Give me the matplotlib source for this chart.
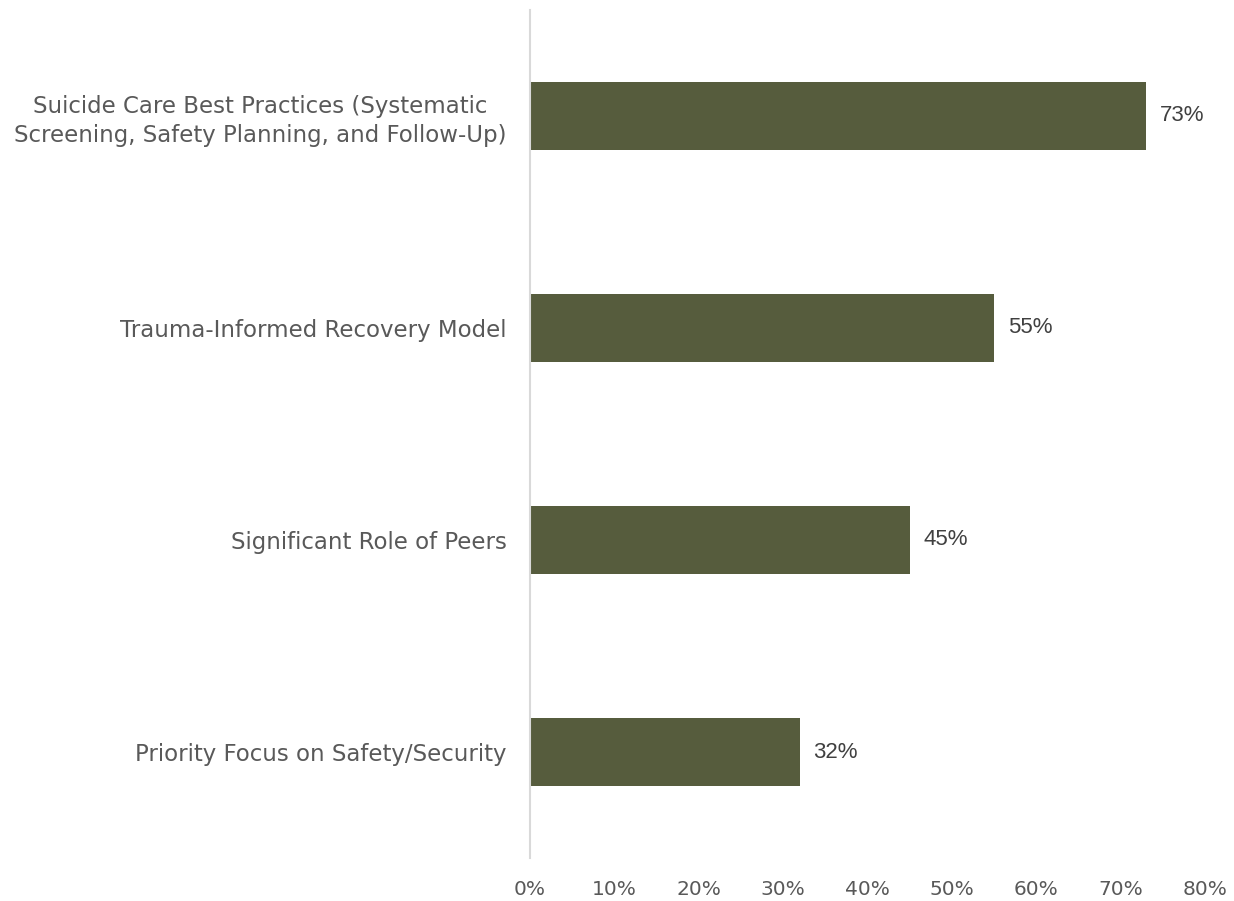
import matplotlib
matplotlib.use("Agg")
import matplotlib.pyplot as plt
from matplotlib.ticker import PercentFormatter

plt.rcParams['font.family'] = ['DejaVu Sans']

categories = [
    "Suicide Care Best Practices (Systematic\nScreening, Safety Planning, and Follow-Up)",
    "Trauma-Informed Recovery Model",
    "Significant Role of Peers",
    "Priority Focus on Safety/Security",
]
values = [73, 55, 45, 32]

bar_color = "#565C3D"
text_color = "#595959"

fig = plt.figure(figsize=(12.34, 9.01), dpi=100)
ax = fig.add_axes([0.4295, 0.0477, 0.5470, 0.9413])

pos = list(range(len(categories)))
ax.barh(pos, values, height=0.32, color=bar_color)
ax.set_ylim(len(categories) - 0.5, -0.5)
ax.set_xlim(0, 80)
ax.set_xticks(range(0, 81, 10))
ax.xaxis.set_major_formatter(PercentFormatter(decimals=0))
ax.set_yticks(pos)
ax.set_yticklabels(categories, ha="right", multialignment="center", linespacing=1.3)

for p, v in zip(pos, values):
    ax.text(v + 1.6, p, f"{v}%", va="center", ha="left", fontsize=16,
            color="#404040", family="Liberation Sans")

for s in ["top", "right", "bottom"]:
    ax.spines[s].set_visible(False)
ax.spines["left"].set_color("#D9D9D9")
ax.spines["left"].set_linewidth(1.5)

ax.tick_params(axis="both", length=0, colors=text_color)
ax.tick_params(axis="x", pad=16, labelsize=14.5)
ax.tick_params(axis="y", pad=17, labelsize=16.5)

fig.savefig("out.png", dpi=100)
